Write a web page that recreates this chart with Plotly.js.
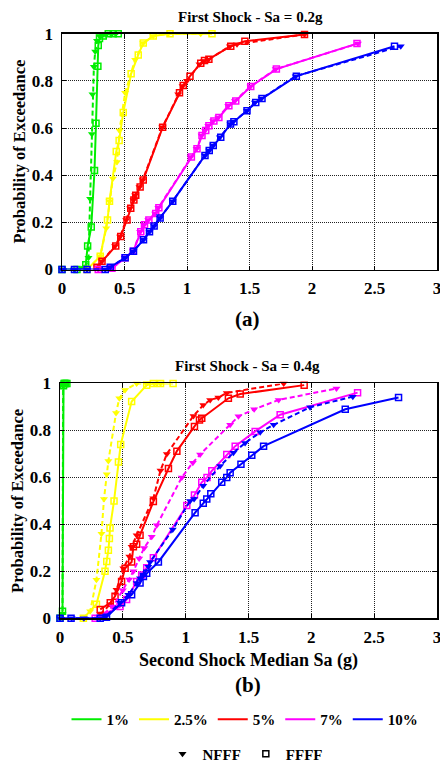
<!DOCTYPE html>
<html><head><meta charset="utf-8">
<script src="https://cdn.plot.ly/plotly-3.0.1.min.js"></script>
<style>html,body{margin:0;padding:0;background:#fff;}#chart{width:440px;height:771px;}</style>
</head><body><div id="chart"></div>
<script>
// ---- Data ----
const levels = ['1%', '2.5%', '5%', '7%', '10%'];
const panelTitles = ['First Shock - Sa = 0.2g', 'First Shock - Sa = 0.4g'];
const panelLabels = ['(a)', '(b)'];
const xTitle = 'Second Shock Median Sa (g)';
const yTitle = 'Probability of Exceedance';
const typeNames = ['NFFF', 'FFFF'];

// Panel (a): First shock Sa = 0.2g
const a_NFFF_1_x = [0, 0.10, 0.19, 0.212, 0.225, 0.239, 0.244, 0.255, 0.266, 0.28, 0.30, 0.33, 0.36, 0.40, 0.43];
const a_NFFF_1_y = [0, 0, 0.01, 0.05, 0.30, 0.575, 0.743, 0.86, 0.925, 0.97, 0.99, 1, 1, 1, 1];
const a_FFFF_1_x = [0, 0.12, 0.19, 0.205, 0.234, 0.26, 0.272, 0.287, 0.29, 0.30, 0.33, 0.37, 0.41, 0.45];
const a_FFFF_1_y = [0, 0, 0.02, 0.10, 0.18, 0.42, 0.62, 0.862, 0.95, 0.98, 0.99, 1, 1, 1];

const a_NFFF_2_x = [0.20, 0.306, 0.354, 0.38, 0.407, 0.44, 0.46, 0.505, 0.585, 0.65, 0.73, 0.85, 1.11];
const a_NFFF_2_y = [0, 0.056, 0.175, 0.29, 0.386, 0.456, 0.59, 0.75, 0.89, 0.96, 0.99, 1, 1];
const a_FFFF_2_x = [0.20, 0.306, 0.364, 0.38, 0.434, 0.457, 0.49, 0.553, 0.61, 0.65, 0.73, 0.864, 1.20];
const a_FFFF_2_y = [0, 0.056, 0.21, 0.29, 0.50, 0.547, 0.666, 0.83, 0.91, 0.96, 0.99, 1, 1];

const a_NFFF_3_x = [0.28, 0.32, 0.425, 0.465, 0.513, 0.545, 0.572, 0.585, 0.62, 0.646, 0.803, 0.93, 0.965, 1.00, 1.10, 1.136, 1.17, 1.343, 1.40, 1.94];
const a_NFFF_3_y = [0.01, 0.035, 0.10, 0.14, 0.21, 0.26, 0.295, 0.315, 0.35, 0.38, 0.603, 0.743, 0.778, 0.80, 0.87, 0.884, 0.89, 0.947, 0.955, 0.997];
const a_FFFF_3_x = [0.28, 0.32, 0.43, 0.47, 0.52, 0.55, 0.575, 0.59, 0.625, 0.65, 0.805, 0.94, 0.97, 1.024, 1.11, 1.14, 1.175, 1.35, 1.463, 1.94];
const a_FFFF_3_y = [0.01, 0.035, 0.10, 0.14, 0.21, 0.26, 0.295, 0.315, 0.35, 0.38, 0.603, 0.75, 0.78, 0.82, 0.875, 0.886, 0.892, 0.947, 0.968, 0.997];

const a_NFFF_4_x = [0.29, 0.40, 0.505, 0.57, 0.625, 0.657, 0.69, 0.745, 0.771, 1.03, 1.077, 1.117, 1.144, 1.17, 1.21, 1.25, 1.33, 1.383, 1.508, 1.71, 2.367];
const a_NFFF_4_y = [0, 0.005, 0.05, 0.077, 0.16, 0.19, 0.21, 0.238, 0.262, 0.477, 0.512, 0.568, 0.589, 0.61, 0.63, 0.645, 0.694, 0.715, 0.776, 0.85, 0.958];
const a_FFFF_4_x = [0.29, 0.40, 0.505, 0.57, 0.63, 0.66, 0.695, 0.75, 0.775, 1.035, 1.08, 1.12, 1.15, 1.175, 1.215, 1.255, 1.335, 1.39, 1.51, 1.715, 2.36];
const a_FFFF_4_y = [0, 0.005, 0.05, 0.077, 0.16, 0.19, 0.21, 0.238, 0.262, 0.477, 0.512, 0.568, 0.589, 0.61, 0.63, 0.645, 0.694, 0.715, 0.776, 0.85, 0.958];

const a_NFFF_5_x = [0, 0.10, 0.20, 0.346, 0.386, 0.505, 0.572, 0.652, 0.70, 0.737, 0.785, 0.886, 1.144, 1.178, 1.21, 1.263, 1.348, 1.37, 1.48, 1.543, 1.596, 1.87, 2.71];
const a_NFFF_5_y = [0, 0, 0, 0, 0.01, 0.05, 0.078, 0.126, 0.16, 0.185, 0.218, 0.29, 0.484, 0.505, 0.526, 0.561, 0.617, 0.627, 0.673, 0.708, 0.725, 0.82, 0.947];
const a_FFFF_5_x = [0, 0.10, 0.20, 0.346, 0.386, 0.505, 0.572, 0.652, 0.70, 0.737, 0.785, 0.886, 1.144, 1.178, 1.21, 1.27, 1.348, 1.375, 1.48, 1.55, 1.60, 1.875, 2.66];
const a_FFFF_5_y = [0, 0, 0, 0, 0.01, 0.05, 0.078, 0.126, 0.16, 0.185, 0.218, 0.29, 0.484, 0.505, 0.526, 0.561, 0.617, 0.627, 0.673, 0.708, 0.725, 0.82, 0.947];

// Panel (b): First shock Sa = 0.4g
const b_NFFF_1_x = [0, 0.02, 0.025, 0.03, 0.035, 0.04, 0.05];
const b_NFFF_1_y = [0, 0.02, 0.99, 1, 1, 1, 1];
const b_FFFF_1_x = [0, 0.02, 0.028, 0.032, 0.038, 0.045, 0.055];
const b_FFFF_1_y = [0, 0.03, 0.99, 1, 1, 1, 1];

const b_NFFF_2_x = [0.186, 0.24, 0.29, 0.33, 0.35, 0.372, 0.385, 0.446, 0.472, 0.518, 0.61, 0.69, 0.75, 0.80];
const b_NFFF_2_y = [0, 0.03, 0.164, 0.36, 0.508, 0.614, 0.67, 0.874, 0.937, 0.972, 1, 1, 1, 1];
const b_FFFF_2_x = [0.186, 0.29, 0.358, 0.372, 0.385, 0.393, 0.398, 0.43, 0.465, 0.483, 0.57, 0.69, 0.743, 0.80, 0.90];
const b_FFFF_2_y = [0, 0.06, 0.20, 0.242, 0.29, 0.34, 0.385, 0.50, 0.666, 0.74, 0.923, 0.993, 1, 1, 1];

const b_NFFF_3_x = [0.32, 0.40, 0.45, 0.504, 0.552, 0.57, 0.61, 0.743, 0.80, 0.85, 1.062, 1.14, 1.195, 1.26, 1.327, 1.78];
const b_NFFF_3_y = [0.017, 0.06, 0.122, 0.213, 0.263, 0.305, 0.354, 0.511, 0.63, 0.70, 0.862, 0.908, 0.93, 0.94, 0.96, 1];
const b_FFFF_3_x = [0.32, 0.40, 0.438, 0.49, 0.518, 0.57, 0.584, 0.61, 0.637, 0.743, 0.863, 0.93, 1.07, 1.11, 1.128, 1.34, 1.434, 1.943];
const b_FFFF_3_y = [0.038, 0.066, 0.094, 0.157, 0.213, 0.24, 0.305, 0.315, 0.354, 0.497, 0.638, 0.712, 0.817, 0.845, 0.852, 0.937, 0.955, 0.993];

const b_NFFF_4_x = [0.30, 0.42, 0.50, 0.55, 0.584, 0.63, 0.67, 0.73, 0.77, 0.969, 1.057, 1.115, 1.354, 1.42, 1.545, 1.74, 2.20];
const b_NFFF_4_y = [0, 0.05, 0.12, 0.165, 0.20, 0.255, 0.30, 0.347, 0.396, 0.60, 0.663, 0.698, 0.824, 0.86, 0.89, 0.93, 0.979];
const b_FFFF_4_x = [0.28, 0.478, 0.53, 0.61, 0.65, 0.69, 0.743, 1.009, 1.07, 1.128, 1.17, 1.208, 1.327, 1.394, 1.553, 1.752, 2.368];
const b_FFFF_4_y = [0, 0.05, 0.08, 0.157, 0.185, 0.215, 0.258, 0.48, 0.525, 0.579, 0.60, 0.628, 0.698, 0.733, 0.796, 0.867, 0.961];

const b_NFFF_5_x = [0, 0.093, 0.19, 0.32, 0.366, 0.478, 0.544, 0.61, 0.637, 0.664, 0.703, 0.717, 0.897, 1.035, 1.067, 1.14, 1.274, 1.38, 1.473, 1.593, 1.70, 1.99, 2.33];
const b_NFFF_5_y = [0, 0, 0, 0, 0.01, 0.066, 0.10, 0.15, 0.171, 0.185, 0.22, 0.24, 0.378, 0.50, 0.508, 0.565, 0.649, 0.705, 0.747, 0.792, 0.824, 0.899, 0.944];
const b_FFFF_5_x = [0, 0.088, 0.32, 0.37, 0.49, 0.57, 0.637, 0.664, 0.69, 0.783, 1.075, 1.14, 1.168, 1.20, 1.287, 1.327, 1.354, 1.44, 1.526, 1.62, 2.27, 2.694];
const b_FFFF_5_y = [0, 0, 0, 0.005, 0.066, 0.10, 0.15, 0.178, 0.192, 0.24, 0.45, 0.49, 0.508, 0.53, 0.579, 0.60, 0.62, 0.656, 0.694, 0.733, 0.89, 0.94];

const xTickVals = [0, 0.5, 1, 1.5, 2, 2.5, 3];
const xTickText = ['0', '0.5', '1', '1.5', '2', '2.5', '3'];
const yTickVals = [0, 0.2, 0.4, 0.6, 0.8, 1];
const yTickText = ['0', '0.2', '0.4', '0.6', '0.8', '1'];

// ---- Styles ----
const colors = ['#00ee00', '#ffff00', '#ff0000', '#ff00ff', '#0000ff'];
const FONT = 'Liberation Serif, Times New Roman, serif';

const panels = {
  a: [[a_NFFF_1_x, a_NFFF_1_y, a_FFFF_1_x, a_FFFF_1_y], [a_NFFF_2_x, a_NFFF_2_y, a_FFFF_2_x, a_FFFF_2_y],
      [a_NFFF_3_x, a_NFFF_3_y, a_FFFF_3_x, a_FFFF_3_y], [a_NFFF_4_x, a_NFFF_4_y, a_FFFF_4_x, a_FFFF_4_y],
      [a_NFFF_5_x, a_NFFF_5_y, a_FFFF_5_x, a_FFFF_5_y]],
  b: [[b_NFFF_1_x, b_NFFF_1_y, b_FFFF_1_x, b_FFFF_1_y], [b_NFFF_2_x, b_NFFF_2_y, b_FFFF_2_x, b_FFFF_2_y],
      [b_NFFF_3_x, b_NFFF_3_y, b_FFFF_3_x, b_FFFF_3_y], [b_NFFF_4_x, b_NFFF_4_y, b_FFFF_4_x, b_FFFF_4_y],
      [b_NFFF_5_x, b_NFFF_5_y, b_FFFF_5_x, b_FFFF_5_y]]
};

const traces = [];
[['a', 'x', 'y'], ['b', 'x2', 'y2']].forEach(([key, xa, ya]) => {
  panels[key].forEach((set, i) => {
    traces.push({
      x: set[2], y: set[3], xaxis: xa, yaxis: ya, mode: 'lines+markers', showlegend: false,
      line: {color: colors[i], width: 2},
      marker: {symbol: 'square-open', size: 6, color: colors[i], line: {width: 1.5}},
      cliponaxis: false, name: levels[i] + ' ' + typeNames[1]
    });
    traces.push({
      x: set[0], y: set[1], xaxis: xa, yaxis: ya, mode: 'lines+markers', showlegend: false,
      line: {color: colors[i], width: 2, dash: '5px,3px'},
      marker: {symbol: 'triangle-down', size: 7, color: colors[i]},
      cliponaxis: false, name: levels[i] + ' ' + typeNames[0]
    });
  });
});

// legend entries
levels.forEach((lv, i) => {
  traces.push({x: [null], y: [null], mode: 'lines', name: lv, legend: 'legend',
    line: {color: colors[i], width: 2}, showlegend: true});
});
traces.push({x: [null], y: [null], mode: 'markers', name: typeNames[0], legend: 'legend2',
  marker: {symbol: 'triangle-down', size: 7, color: '#000'}, showlegend: true});
traces.push({x: [null], y: [null], mode: 'markers', name: typeNames[1], legend: 'legend2',
  marker: {symbol: 'square-open', size: 6, color: '#000', line: {width: 1.5}}, showlegend: true});

function xAxis(domain, anchor, withTitle) {
  const ax = {
    domain: domain, anchor: anchor, range: [0, 3], tickvals: xTickVals, ticktext: xTickText,
    showline: true, mirror: 'ticks', linecolor: '#000', linewidth: 1.5,
    ticks: 'inside', ticklen: 4, tickcolor: '#000', ticklabelstandoff: 3, ticklabeloverflow: 'allow',
    showgrid: true, gridcolor: '#222', griddash: '1px,1px', gridwidth: 1, zeroline: false,
    tickfont: {family: FONT, size: 17, color: '#000', weight: 'bold'}
  };
  if (withTitle) ax.title = {text: xTitle, font: {family: FONT, size: 18, color: '#000', weight: 'bold'}, standoff: 7};
  return ax;
}
function yAxis(domain, anchor) {
  return {
    domain: domain, anchor: anchor, range: [0, 1], tickvals: yTickVals, ticktext: yTickText,
    showline: true, mirror: 'ticks', linecolor: '#000', linewidth: 1.5,
    ticks: 'inside', ticklen: 4, tickcolor: '#000', ticklabelstandoff: 4,
    showgrid: true, gridcolor: '#222', griddash: '1px,1px', gridwidth: 1, zeroline: false,
    tickfont: {family: FONT, size: 17, color: '#000', weight: 'bold'},
    title: {text: yTitle, font: {family: FONT, size: 16.5, color: '#000', weight: 'bold'}, standoff: 2}
  };
}

const W = 440, H = 771;
const layout = {
  width: W, height: H, margin: {l: 0, r: 0, t: 0, b: 0}, paper_bgcolor: '#fff', plot_bgcolor: '#fff',
  font: {family: FONT, color: '#000'},
  xaxis: xAxis([62 / W, 437 / W], 'y', false),
  yaxis: yAxis([1 - 272 / H, 1 - 34 / H], 'x'),
  xaxis2: xAxis([60 / W, 437 / W], 'y2', true),
  yaxis2: yAxis([1 - 624 / H, 1 - 387 / H], 'x2'),
  legend: {orientation: 'h', x: 245 / W, xanchor: 'center', y: 1 - 726 / H, yanchor: 'middle',
    font: {family: FONT, size: 15, color: '#000', weight: 'bold'}, bgcolor: 'rgba(0,0,0,0)', itemwidth: 30},
  legend2: {orientation: 'h', x: 245 / W, xanchor: 'center', y: 1 - 761 / H, yanchor: 'middle',
    font: {family: FONT, size: 15, color: '#000', weight: 'bold'}, bgcolor: 'rgba(0,0,0,0)', itemwidth: 30},
  annotations: [
    {text: panelTitles[0], xref: 'paper', yref: 'paper', x: 250 / W, y: 1 - 17 / H, showarrow: false,
      xanchor: 'center', yanchor: 'middle', font: {family: FONT, size: 15, color: '#000', weight: 'bold'}},
    {text: panelTitles[1], xref: 'paper', yref: 'paper', x: 248 / W, y: 1 - 369 / H, showarrow: false,
      xanchor: 'center', yanchor: 'middle', font: {family: FONT, size: 15, color: '#000', weight: 'bold'}},
    {text: panelLabels[0], xref: 'paper', yref: 'paper', x: 248 / W, y: 1 - 322 / H, showarrow: false,
      xanchor: 'center', yanchor: 'middle', font: {family: FONT, size: 21, color: '#000', weight: 'bold'}},
    {text: panelLabels[1], xref: 'paper', yref: 'paper', x: 248 / W, y: 1 - 691 / H, showarrow: false,
      xanchor: 'center', yanchor: 'middle', font: {family: FONT, size: 21, color: '#000', weight: 'bold'}}
  ]
};

Plotly.newPlot('chart', traces, layout, {displayModeBar: false, staticPlot: true});
</script></body></html>
